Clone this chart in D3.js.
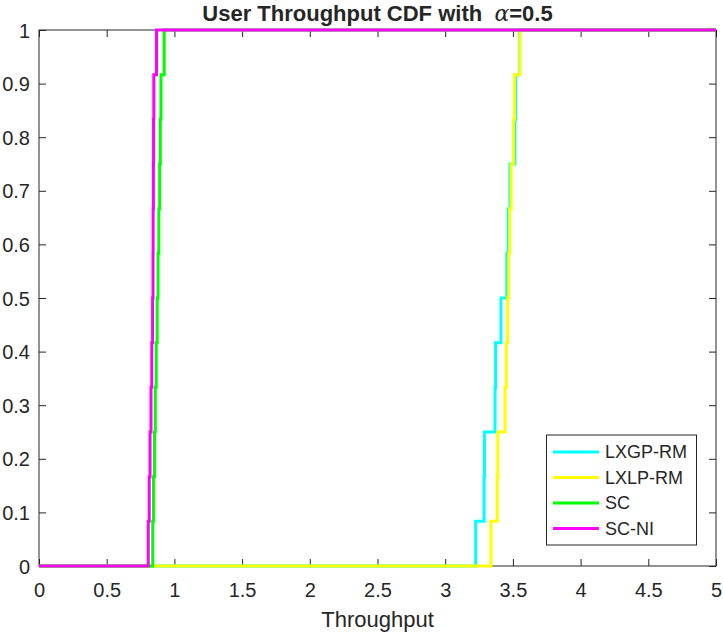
<!DOCTYPE html>
<html>
<head>
<meta charset="utf-8">
<script src="https://cdn.jsdelivr.net/npm/d3@7"></script>
<style>
  body { margin: 0; background: #fff; }
  text { font-family: "Liberation Sans", Arial, sans-serif; fill: #262626; }
</style>
</head>
<body>
<svg id="chart" width="723" height="634"></svg>
<script>
// Sorted throughput samples per scheme (12 users each)
var lxgpRM = [3.225, 3.287, 3.29, 3.368, 3.372, 3.412, 3.455, 3.465, 3.478, 3.515, 3.52, 3.55];
var lxlpRM = [3.338, 3.385, 3.388, 3.442, 3.452, 3.46, 3.468, 3.476, 3.487, 3.505, 3.512, 3.552];
var sc     = [0.840, 0.846, 0.853, 0.859, 0.866, 0.873, 0.879, 0.885, 0.891, 0.896, 0.901, 0.925];
var scNI   = [0.807, 0.814, 0.820, 0.827, 0.833, 0.839, 0.842, 0.843, 0.845, 0.846, 0.848, 0.868];
// CDF level reached after each sample
var cdfLevels = [0.0833, 0.1667, 0.25, 0.3333, 0.4167, 0.5, 0.5833, 0.6667, 0.75, 0.8333, 0.9167, 1];

var seriesNames = ["LXGP-RM", "LXLP-RM", "SC", "SC-NI"];
var seriesColors = ["#00ffff", "#ffff00", "#00ff00", "#ff00ff"];
var xTicks = [0, 0.5, 1, 1.5, 2, 2.5, 3, 3.5, 4, 4.5, 5];
var yTicks = [0, 0.1, 0.2, 0.3, 0.4, 0.5, 0.6, 0.7, 0.8, 0.9, 1];

var svg = d3.select("#chart");
var plotL = 39, plotR = 716, plotT = 30, plotB = 566;

var x = d3.scaleLinear().domain([0, 5]).range([plotL, plotR]);
var y = d3.scaleLinear().domain([0, 1]).range([plotB, plotT]);

// axes box
svg.append("rect")
    .attr("x", plotL).attr("y", plotT)
    .attr("width", plotR - plotL).attr("height", plotB - plotT)
    .attr("fill", "none").attr("stroke", "#262626").attr("stroke-width", 1);

var tickLen = 7;

// bottom, top, left, right axes (ticks point inward)
var xb = svg.append("g").attr("transform", "translate(0," + plotB + ")")
    .call(d3.axisBottom(x).tickValues(xTicks).tickSize(-tickLen).tickFormat(d => d));
var xt = svg.append("g").attr("transform", "translate(0," + plotT + ")")
    .call(d3.axisTop(x).tickValues(xTicks).tickSize(-tickLen).tickFormat(""));
var yl = svg.append("g").attr("transform", "translate(" + plotL + ",0)")
    .call(d3.axisLeft(y).tickValues(yTicks).tickSize(-tickLen).tickFormat(d => d));
var yr = svg.append("g").attr("transform", "translate(" + plotR + ",0)")
    .call(d3.axisRight(y).tickValues(yTicks).tickSize(-tickLen).tickFormat(""));

[xb, xt, yl, yr].forEach(function(g) {
    g.select(".domain").remove();
    g.selectAll(".tick line").attr("stroke", "#262626");
    g.selectAll(".tick text")
        .attr("fill", "#262626")
        .style("font-family", "'Liberation Sans', Arial, sans-serif")
        .style("font-size", "20px");
});
xb.selectAll(".tick text").attr("y", 17).attr("dy", "0.71em");
yl.selectAll(".tick text").attr("x", -9).attr("dy", "0.35em");

// CDF lines
var line = d3.line()
    .x(d => x(d[0]))
    .y(d => y(d[1]))
    .curve(d3.curveStepAfter);

[lxgpRM, lxlpRM, sc, scNI].forEach(function(vals, i) {
    var pts = [[0, 0]];
    vals.forEach((v, k) => pts.push([v, cdfLevels[k]]));
    pts.push([5, 1]);
    svg.append("path")
        .datum(pts)
        .attr("fill", "none")
        .attr("stroke", seriesColors[i])
        .attr("stroke-width", 3)
        .attr("d", line);
});

// title
var title = svg.append("text")
    .attr("x", (plotL + plotR) / 2)
    .attr("y", 21)
    .attr("text-anchor", "middle")
    .style("font-size", "22px")
    .style("font-weight", "bold")
    .attr("fill", "#000");
title.append("tspan").text("User Throughput CDF with \u00a0");
title.append("tspan")
    .style("font-family", "'DejaVu Serif', 'Liberation Serif', serif")
    .style("font-style", "italic")
    .style("font-weight", "normal")
    .text("\u03b1");
title.append("tspan").text("=0.5");

// x label
svg.append("text")
    .attr("x", (plotL + plotR) / 2)
    .attr("y", 627)
    .attr("text-anchor", "middle")
    .style("font-size", "22px")
    .text("Throughput");

// legend
var legend = svg.append("g");
legend.append("rect")
    .attr("x", 546.5).attr("y", 435)
    .attr("width", 150).attr("height", 110)
    .attr("fill", "#fff").attr("stroke", "#262626").attr("stroke-width", 1);
seriesNames.forEach(function(name, i) {
    var cy = 452 + i * 25.5;
    legend.append("line")
        .attr("x1", 553).attr("x2", 599)
        .attr("y1", cy).attr("y2", cy)
        .attr("stroke", seriesColors[i]).attr("stroke-width", 3);
    legend.append("text")
        .attr("x", 605).attr("y", cy)
        .attr("dy", "0.35em")
        .style("font-size", "18px")
        .attr("fill", "#000")
        .text(name);
});
</script>
</body>
</html>
